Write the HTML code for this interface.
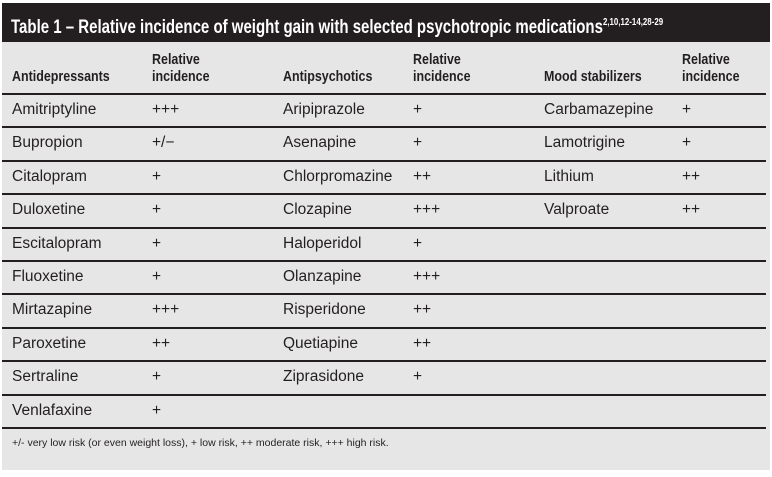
<!DOCTYPE html>
<html><head><meta charset="utf-8"><style>
body{margin:0;width:772px;height:477px;background:#fff;position:relative;overflow:hidden;font-family:"Liberation Sans Narrow","Liberation Sans",sans-serif;color:#231f20}
.bar{position:absolute;left:2px;top:3px;width:768px;height:39px;background:#231f20;}
.bar span{position:absolute;left:9px;top:0;color:#fff;font-weight:bold;font-size:19px;line-height:39px;white-space:nowrap;transform:scaleX(0.79);transform-origin:left center}
.bar sup{font-size:10px;vertical-align:8px}
.panel{position:absolute;left:2px;top:42px;width:768px;height:428px;background:#e6e6e6}
.t{position:absolute;font-size:15.5px;white-space:nowrap}
.h{position:absolute;font-size:14.5px;font-weight:bold;line-height:17px;white-space:nowrap;transform:scaleX(0.86);transform-origin:left top}
.ln{position:absolute;left:2px;width:764px;height:2px;background:#231f20}
.foot{position:absolute;left:12px;top:437px;font-size:10.5px}
</style></head><body>
<div class="bar"><span>Table 1 – Relative incidence of weight gain with selected psychotropic medications<sup>2,10,12-14,28-29</sup></span></div>
<div class="panel"></div>
<div id="tbl"></div>
<div class="foot">+/- very low risk (or even weight loss), + low risk, ++ moderate risk, +++ high risk.</div>
<script>
const antidep=["Amitriptyline","Bupropion","Citalopram","Duloxetine","Escitalopram","Fluoxetine","Mirtazapine","Paroxetine","Sertraline","Venlafaxine"];
const antidepInc=["+++","+/\u2212","+","+","+","+","+++","++","+","+"];
const antipsy=["Aripiprazole","Asenapine","Chlorpromazine","Clozapine","Haloperidol","Olanzapine","Risperidone","Quetiapine","Ziprasidone"];
const antipsyInc=["+","+","++","+++","+","+++","++","++","+"];
const mood=["Carbamazepine","Lamotrigine","Lithium","Valproate"];
const moodInc=["+","+","++","++"];
const root=document.getElementById('tbl');
function add(cls,txt,x,y,name){const d=document.createElement('div');d.className=cls;d.textContent=txt;d.style.left=x+'px';d.style.top=y+'px';


root.appendChild(d);return d;}
const heads=[["Antidepressants",12],["Relative\nincidence",152],["Antipsychotics",283],["Relative\nincidence",413],["Mood stabilizers",544],["Relative\nincidence",682]];
heads.forEach((h,i)=>{const d=add('h','',h[1],0,'column-header');const lines=h[0].split('\n');d.innerHTML=lines.join('<br>');d.style.top=(lines.length>1?52:69)+'px';});
const rowH=33.4,y0=94;
for(let i=0;i<=antidep.length;i++){const l=document.createElement('div');l.className='ln';l.style.top=Math.round(y0+i*rowH-1)+'px';


root.appendChild(l);}
function col(arr,inc,x1,x2){arr.forEach((n,i)=>{const y=Math.round(y0+i*rowH+7);add('t',n,x1,y,'drug-name');add('t',inc[i],x2,y,'relative-incidence');});}
col(antidep,antidepInc,12,152);col(antipsy,antipsyInc,283,413);col(mood,moodInc,544,682);
</script>
</body></html>
